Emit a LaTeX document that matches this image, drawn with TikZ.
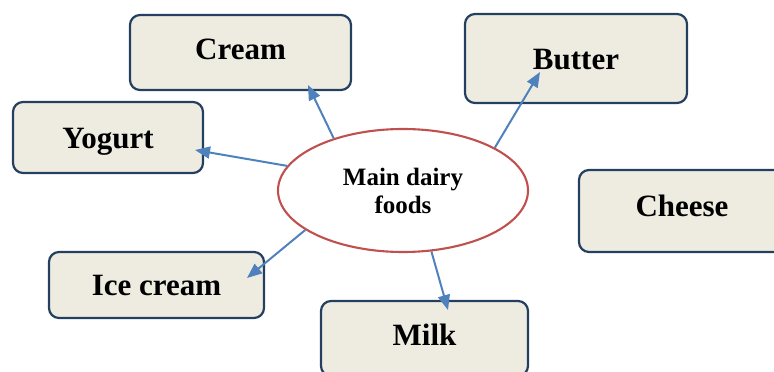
\documentclass[tikz,border=0pt]{standalone}
\usepackage{fontspec}
\setmainfont{Liberation Serif}
\usetikzlibrary{arrows.meta,shapes.geometric}
\definecolor{boxfill}{HTML}{EEECE1}
\definecolor{boxline}{HTML}{243F60}
\definecolor{arrowblue}{HTML}{4F81BD}
\definecolor{ellred}{HTML}{C0504D}
\tikzset{
  foodbox/.style={draw=boxline, line width=2.2pt, fill=boxfill, rounded corners=10pt,
    inner sep=0pt, font=\fontsize{31}{36}\selectfont\bfseries, text height=21pt, text depth=0pt},
  mainell/.style={ellipse, draw=ellred, line width=2.1pt, fill=white, inner sep=0pt,
    minimum width=250pt, minimum height=123pt, align=center,
    font=\fontsize{25}{28}\selectfont\bfseries},
  link/.style={draw=arrowblue, line width=2pt, -{Triangle[length=15pt,width=12pt]}}
}
\begin{document}
\begin{tikzpicture}[x=1pt,y=-1pt]
\useasboundingbox (0,0) rectangle (774,372);
\clip (0,0) rectangle (774,372);
\node[foodbox, minimum width=221pt, minimum height=75pt, text depth=8pt] (cream) at (240.5,52.5) {Cream};
\node[foodbox, minimum width=190pt, minimum height=71pt] (yogurt) at (108,137.5) {Yogurt};
\node[foodbox, minimum width=222pt, minimum height=89pt] (butter) at (576,58.5) {Butter};
\node[foodbox, minimum width=206pt, minimum height=82pt, text depth=10pt] (cheese) at (682,211) {Cheese};
\node[foodbox, minimum width=215pt, minimum height=66pt] (icecream) at (156.5,285) {Ice cream};
\node[foodbox, minimum width=207pt, minimum height=75pt, text depth=7pt] (milk) at (424.5,338.5) {Milk};
\node[mainell] (main) at (403,190.5) {Main dairy\\foods};
\coordinate (tcream) at (308,85);
\coordinate (tyogurt) at (195,150);
\coordinate (tbutter) at (540,72);
\coordinate (tice) at (247,278);
\coordinate (tmilk) at (448,310);
\draw[link] (main.143) -- (tcream);
\draw[link] (main.168) -- (tyogurt);
\draw[link] (main.25) -- (tbutter);
\draw[link] (main.202) -- (tice);
\draw[link] (main.-65) -- (tmilk);
\end{tikzpicture}
\end{document}
